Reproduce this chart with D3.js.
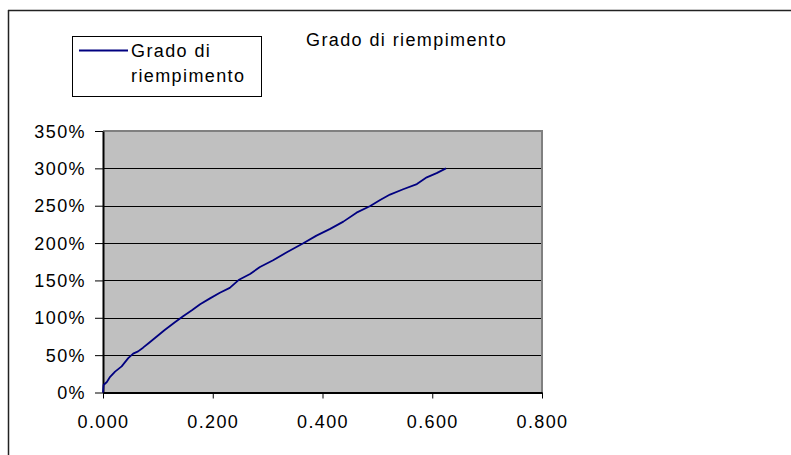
<!DOCTYPE html>
<html>
<head>
<meta charset="utf-8">
<script src="https://cdn.jsdelivr.net/npm/d3@7"></script>
<style>
  html, body { margin: 0; padding: 0; background: #fff; }
  svg { display: block; }
  text { font-family: "Liberation Sans", Arial, sans-serif; }
</style>
</head>
<body>
<svg id="chart" width="791" height="455"></svg>
<script>
const chartTitle = "Grado di riempimento";
const seriesName = ["Grado di", "riempimento"];
const xValues = [0, 0.001, 0.007, 0.013, 0.022, 0.034, 0.046, 0.055, 0.064, 0.073, 0.083, 0.098, 0.113, 0.131, 0.146, 0.162, 0.177, 0.195, 0.213, 0.231, 0.247, 0.268, 0.286, 0.310, 0.335, 0.365, 0.389, 0.414, 0.438, 0.462, 0.487, 0.505, 0.523, 0.547, 0.572, 0.590, 0.608, 0.625];
const yValues = [0, 0.10, 0.14, 0.21, 0.28, 0.35, 0.46, 0.52, 0.55, 0.60, 0.66, 0.75, 0.84, 0.94, 1.02, 1.10, 1.18, 1.26, 1.335, 1.40, 1.505, 1.586, 1.68, 1.77, 1.877, 1.997, 2.10, 2.19, 2.287, 2.407, 2.497, 2.577, 2.649, 2.72, 2.79, 2.88, 2.936, 3.00];
const xTicks = [0, 0.2, 0.4, 0.6, 0.8];
const yTicks = [0, 0.5, 1.0, 1.5, 2.0, 2.5, 3.0, 3.5];

const svg = d3.select("#chart");
const plot = { left: 103, right: 542, top: 131, bottom: 392.5 };

const x = d3.scaleLinear().domain([0, 0.8]).range([plot.left, plot.right]);
const y = d3.scaleLinear().domain([0, 3.5]).range([plot.bottom, plot.top]);

// Outer chart border (top and left visible)
svg.append("line").attr("x1", 8).attr("x2", 791).attr("y1", 10.5).attr("y2", 10.5)
  .attr("stroke", "#222").attr("stroke-width", 1.5);
svg.append("line").attr("x1", 8.5).attr("x2", 8.5).attr("y1", 10).attr("y2", 455)
  .attr("stroke", "#222").attr("stroke-width", 1.5);

// Plot area background
svg.append("rect")
  .attr("x", plot.left).attr("y", plot.top)
  .attr("width", plot.right - plot.left).attr("height", plot.bottom - plot.top)
  .attr("fill", "#c0c0c0");

// Gridlines
svg.append("g").selectAll("line")
  .data(yTicks.filter(d => d > 0 && d < 3.5))
  .join("line")
  .attr("x1", plot.left).attr("x2", plot.right)
  .attr("y1", d => Math.round(y(d)) + 0.5).attr("y2", d => Math.round(y(d)) + 0.5)
  .attr("stroke", "#000").attr("stroke-width", 1);

// Top and right border of plot area (gray)
svg.append("path")
  .attr("d", `M${plot.left},${plot.top} H${plot.right} V${plot.bottom}`)
  .attr("fill", "none").attr("stroke", "#808080").attr("stroke-width", 2);

// Axes
const fs = "18px";
const ls = "1.4px";
const xAxis = svg.append("g")
  .attr("transform", `translate(0,${plot.bottom})`)
  .call(d3.axisBottom(x).tickValues(xTicks).tickFormat(d3.format(".3f")).tickSize(6).tickSizeOuter(0).tickPadding(17));
const yAxis = svg.append("g")
  .attr("transform", `translate(${plot.left},0)`)
  .call(d3.axisLeft(y).tickValues(yTicks).tickFormat(d3.format(".0%")).tickSize(8).tickSizeOuter(0).tickPadding(9));

[xAxis, yAxis].forEach(g => {
  g.select(".domain").attr("stroke", "#000").attr("stroke-width", 2);
  g.selectAll(".tick line").attr("stroke", "#000").attr("stroke-width", 1);
  g.selectAll(".tick text").attr("fill", "#000")
    .style("font-size", fs).style("letter-spacing", ls)
    .style("font-family", '"Liberation Sans", Arial, sans-serif');
});
yAxis.selectAll(".tick text").attr("dy", "0.34em");
xAxis.selectAll(".tick text").attr("dy", "0.71em");

// Line
const line = d3.line().x((d, i) => x(xValues[i])).y(d => y(d));
svg.append("path")
  .datum(yValues)
  .attr("d", line)
  .attr("fill", "none")
  .attr("stroke", "#000080")
  .attr("stroke-width", 1.8)
  .attr("stroke-linejoin", "round");

// Title
svg.append("text")
  .attr("x", 306).attr("y", 46)
  .style("font-size", fs).style("letter-spacing", ls)
  .attr("fill", "#000")
  .text(chartTitle);

// Legend
const lg = svg.append("g");
lg.append("rect").attr("x", 72.5).attr("y", 36.5).attr("width", 189).attr("height", 60)
  .attr("fill", "#fff").attr("stroke", "#000").attr("stroke-width", 1);
lg.append("line").attr("x1", 79).attr("x2", 128).attr("y1", 50.5).attr("y2", 50.5)
  .attr("stroke", "#000080").attr("stroke-width", 1.8);
lg.selectAll("text.leg").data(seriesName).join("text")
  .attr("class", "leg")
  .attr("x", 131).attr("y", (d, i) => 57 + i * 25)
  .style("font-size", fs).style("letter-spacing", ls)
  .attr("fill", "#000")
  .text(d => d);
</script>
</body>
</html>
